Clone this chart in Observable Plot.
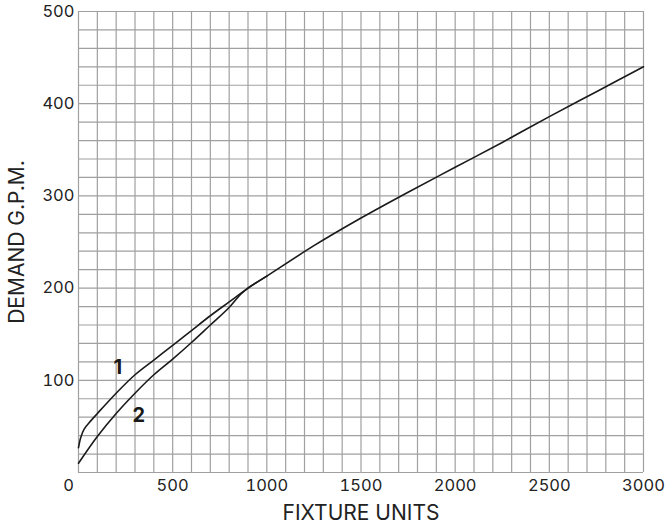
<!DOCTYPE html>
<html>
<head>
<meta charset="utf-8">
<script src="https://cdn.jsdelivr.net/npm/d3@7"></script>
<script src="https://cdn.jsdelivr.net/npm/@observablehq/plot@0.6"></script>
<style>
  html, body { margin: 0; padding: 0; background: #fff; }
  #chart svg { display: block; }
</style>
</head>
<body>
<div id="chart"></div>
<script>
// Curve 1 (full)
const fu1   = [0, 12, 30, 65, 100, 200, 300, 400, 500, 600, 700, 800, 900, 1000, 1250, 1500, 1750, 2000, 2250, 2500, 2750, 3000];
const gpm1  = [27, 38, 47, 56, 64, 86, 106, 122, 138, 154, 170, 185, 200, 213, 246, 276, 304, 331, 358, 386, 413, 440];
// Curve 2 (lower portion; joins curve 1 near 900)
const fu2   = [0, 100, 200, 300, 400, 500, 600, 700, 800, 860, 900, 1000];
const gpm2  = [10, 39, 64, 86, 106, 123, 141, 160, 179, 193, 200, 213];

const xTicks = [500, 1000, 1500, 2000, 2500, 3000];
const xTickZero = [0];
const yTicks = [100, 200, 300, 400, 500];
const xGrid = d3.range(0, 3001, 100);
const yGrid = d3.range(0, 501, 20);

const curveLabels = [
  {fu: 209, gpm: 114, text: "1"},
  {fu: 320, gpm: 62, text: "2"}
];

const line1 = fu1.map((x, i) => ({x, y: gpm1[i]}));
const line2 = fu2.map((x, i) => ({x, y: gpm2[i]}));

const font = "Inter, 'Noto Sans', sans-serif";

const chart = Plot.plot({
  width: 665,
  height: 527,
  marginTop: 11,
  marginRight: 22,
  marginBottom: 55,
  marginLeft: 78,
  style: {fontFamily: font, fontSize: "16px", color: "#222", background: "#fff"},
  x: {domain: [0, 3000]},
  y: {domain: [0, 500]},
  marks: [
    Plot.ruleX(xGrid, {stroke: "#a0a0a0", strokeWidth: 1.2, strokeOpacity: 1}),
    Plot.ruleY(yGrid, {stroke: "#a0a0a0", strokeWidth: 1.2, strokeOpacity: 1}),
    Plot.axisX({ticks: xTicks, tickFormat: d => String(d), tickSize: 0, tickPadding: 7, label: null, fontSize: 16.5, fill: "#222"}),
    Plot.axisX({ticks: xTickZero, tickFormat: d => String(d), tickSize: 0, tickPadding: 7, dx: -10, label: null, fontSize: 16.5, fill: "#222"}),
    Plot.axisY({ticks: yTicks, tickFormat: d => String(d), tickSize: 0, tickPadding: 4, label: null, fontSize: 16.5, fill: "#222"}),
    Plot.line(line1, {x: "x", y: "y", curve: "catmull-rom", stroke: "#1a1a1a", strokeWidth: 1.6}),
    Plot.line(line2, {x: "x", y: "y", curve: "catmull-rom", stroke: "#1a1a1a", strokeWidth: 1.6}),
    Plot.text(curveLabels, {x: "fu", y: "gpm", text: "text", fontSize: 20, fontWeight: "bold", fill: "#1a1a1a"}),
    Plot.text(["FIXTURE UNITS"], {frameAnchor: "bottom", textAnchor: "middle", dy: 47, text: d => d, fontSize: 21, fill: "#222"}),
    Plot.text(["DEMAND G.P.M."], {frameAnchor: "left", textAnchor: "middle", dx: -61, rotate: -90, text: d => d, fontSize: 21, fill: "#222"})
  ]
});
document.getElementById("chart").appendChild(chart);
</script>
</body>
</html>
